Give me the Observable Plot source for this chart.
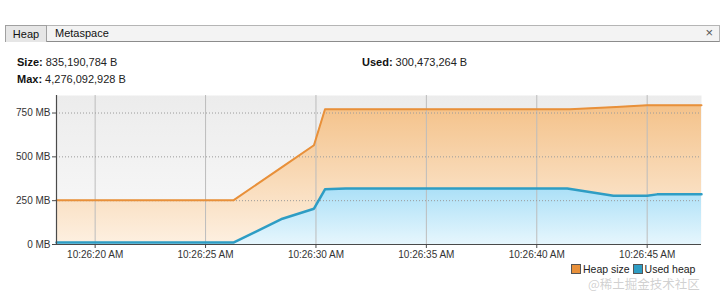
<!DOCTYPE html>
<html>
<head>
<meta charset="utf-8">
<script src="https://cdn.jsdelivr.net/npm/d3@7"></script>
<script src="https://cdn.jsdelivr.net/npm/@observablehq/plot@0.6"></script>
<style>
  html, body { margin: 0; padding: 0; background: #fff; width: 724px; height: 292px; overflow: hidden; font-family: "Liberation Sans", Arial, sans-serif; }
  #tabs { position: absolute; left: 5px; top: 25px; width: 715px; height: 17px; background: #f3f3f3; border: 1px solid #b5b5b5; border-bottom: 1px solid #8c8c8c; box-sizing: border-box; }
  .tab { position: absolute; top: -1px; height: 17px; font-size: 11px; line-height: 16px; color: #111; box-sizing: border-box; }
  #tabHeap { left: -1px; width: 42px; background: #e6e6e6; border: 1px solid #a0a0a0; border-bottom: none; text-align: center; }
  #tabMeta { left: 49px; }
  #close { position: absolute; right: 6px; top: -1px; font-size: 13px; line-height: 16px; color: #555; }
  .stat { position: absolute; font-size: 11px; color: #222; white-space: nowrap; }
  .stat b { color: #111; }
  #chart { position: absolute; left: 0; top: 88px; }
  #legend { position: absolute; top: 263px; left: 571px; font-size: 10.5px; line-height: 13px; color: #222; white-space: nowrap; }
  .sw { display: inline-block; width: 8px; height: 8px; border: 1px solid #555; vertical-align: -1px; margin-right: 2px; }
  #wm { position: absolute; left: 588px; top: 277px; font-size: 12.5px; line-height: 14px; color: rgba(170,170,170,0.55); font-family: "Noto Sans CJK SC", sans-serif; white-space: nowrap; }
</style>
</head>
<body>
<div id="tabs">
  <div class="tab" id="tabHeap">Heap</div>
  <div class="tab" id="tabMeta">Metaspace</div>
  <div id="close">×</div>
</div>
<div class="stat" id="sSize" style="left:17px; top:56px;"></div>
<div class="stat" id="sMax" style="left:17px; top:73px;"></div>
<div class="stat" id="sUsed" style="left:362px; top:56px;"></div>
<div id="chart"></div>
<div id="legend"></div>
<div id="wm">@稀土掘金技术社区</div>
<script>
// ---- data (seconds after 10:26:00, MB) ----
const heapTime  = [18.25, 26.26, 28.48, 29.91, 30.41, 41.5, 43.6, 45.0, 47.46];
const heapSize  = [252, 252, 443, 566, 772, 772, 784, 794, 794];
const usedTime  = [18.25, 26.26, 28.48, 29.91, 30.41, 31.35, 41.38, 43.47, 45.0, 45.45, 47.46];
const usedHeap  = [11, 11, 147, 204, 315, 320, 320, 278, 278, 286, 286];
const xDomain   = [18.25, 47.46];
const xTicks    = [20, 25, 30, 35, 40, 45];
const xTickLabels = ["10:26:20 AM", "10:26:25 AM", "10:26:30 AM", "10:26:35 AM", "10:26:40 AM", "10:26:45 AM"];
const yDomain   = [0, 850];
const yTicks    = [0, 250, 500, 750];
const yTickLabels = ["0 MB", "250 MB", "500 MB", "750 MB"];
const statLabels = ["Size:", "Max:", "Used:"];
const statValues = ["835,190,784 B", "4,276,092,928 B", "300,473,264 B"];
const seriesNames = ["Heap size", "Used heap"];
const seriesColors = ["#e8903a", "#2e9dc4"];

document.getElementById("sSize").innerHTML = `<b>${statLabels[0]}</b> ${statValues[0]}`;
document.getElementById("sMax").innerHTML = `<b>${statLabels[1]}</b> ${statValues[1]}`;
document.getElementById("sUsed").innerHTML = `<b>${statLabels[2]}</b> ${statValues[2]}`;
document.getElementById("legend").innerHTML =
  `<span class="sw" style="background:${seriesColors[0]}"></span>${seriesNames[0]} ` +
  `<span class="sw" style="background:${seriesColors[1]}"></span>${seriesNames[1]}`;

const heap = heapTime.map((t, i) => ({t, v: heapSize[i]}));
const used = usedTime.map((t, i) => ({t, v: usedHeap[i]}));

function defs() {
  const d = d3.create("svg:defs");
  const g = (id, stops) => {
    const lg = d.append("linearGradient").attr("id", id).attr("x1", 0).attr("y1", 0).attr("x2", 0).attr("y2", 1);
    stops.forEach(([o, c]) => lg.append("stop").attr("offset", o).attr("stop-color", c));
  };
  g("bgGrad", [[0, "#ececec"], [1, "#fafafa"]]);
  g("orGrad", [[0, "#f4c28a"], [1, "#fdf0e1"]]);
  g("blGrad", [[0, "#abe0f7"], [1, "#e6f6fd"]]);
  return d.node();
}

const chart = Plot.plot({
  width: 724,
  height: 180,
  marginTop: 7,
  marginBottom: 24,
  marginLeft: 56,
  marginRight: 23,
  style: { fontFamily: "Liberation Sans, Arial, sans-serif", fontSize: "10px", color: "#333", background: "transparent" },
  x: { domain: xDomain, ticks: xTicks, tickFormat: (d, i) => xTickLabels[xTicks.indexOf(d)], tickSize: 4, label: null },
  y: { domain: yDomain, ticks: yTicks, tickFormat: (d) => yTickLabels[yTicks.indexOf(d)], tickSize: 4, label: null },
  marks: [
    defs,
    Plot.frame({ fill: "url(#bgGrad)", stroke: "none" }),
    Plot.areaY(heap, { x: "t", y: "v", fill: "url(#orGrad)" }),
    Plot.areaY(used, { x: "t", y: "v", fill: "url(#blGrad)" }),
    Plot.ruleX(xTicks, { stroke: "#bcbcbc", strokeWidth: 1 }),
    Plot.ruleY(yTicks.slice(1), { stroke: "#9a9a9a", strokeDasharray: "1,2" }),
    Plot.lineY(heap, { x: "t", y: "v", stroke: seriesColors[0], strokeWidth: 2 }),
    Plot.lineY(used, { x: "t", y: "v", stroke: seriesColors[1], strokeWidth: 2.5 }),
    Plot.ruleX([xDomain[0]], { stroke: "#4a4a4a", strokeWidth: 1.2 }),
    Plot.ruleY([0], { stroke: "#4a4a4a", strokeWidth: 1.2 }),
    Plot.axisX({ ticks: xTicks, tickFormat: (d) => xTickLabels[xTicks.indexOf(d)], tickSize: 4, tickPadding: 2, stroke: "#4a4a4a", fill: "#333" }),
    Plot.axisY({ ticks: yTicks, tickFormat: (d) => yTickLabels[yTicks.indexOf(d)], tickSize: 4, tickPadding: 2, stroke: "#4a4a4a", fill: "#333" })
  ]
});
document.getElementById("chart").appendChild(chart);
</script>
</body>
</html>
